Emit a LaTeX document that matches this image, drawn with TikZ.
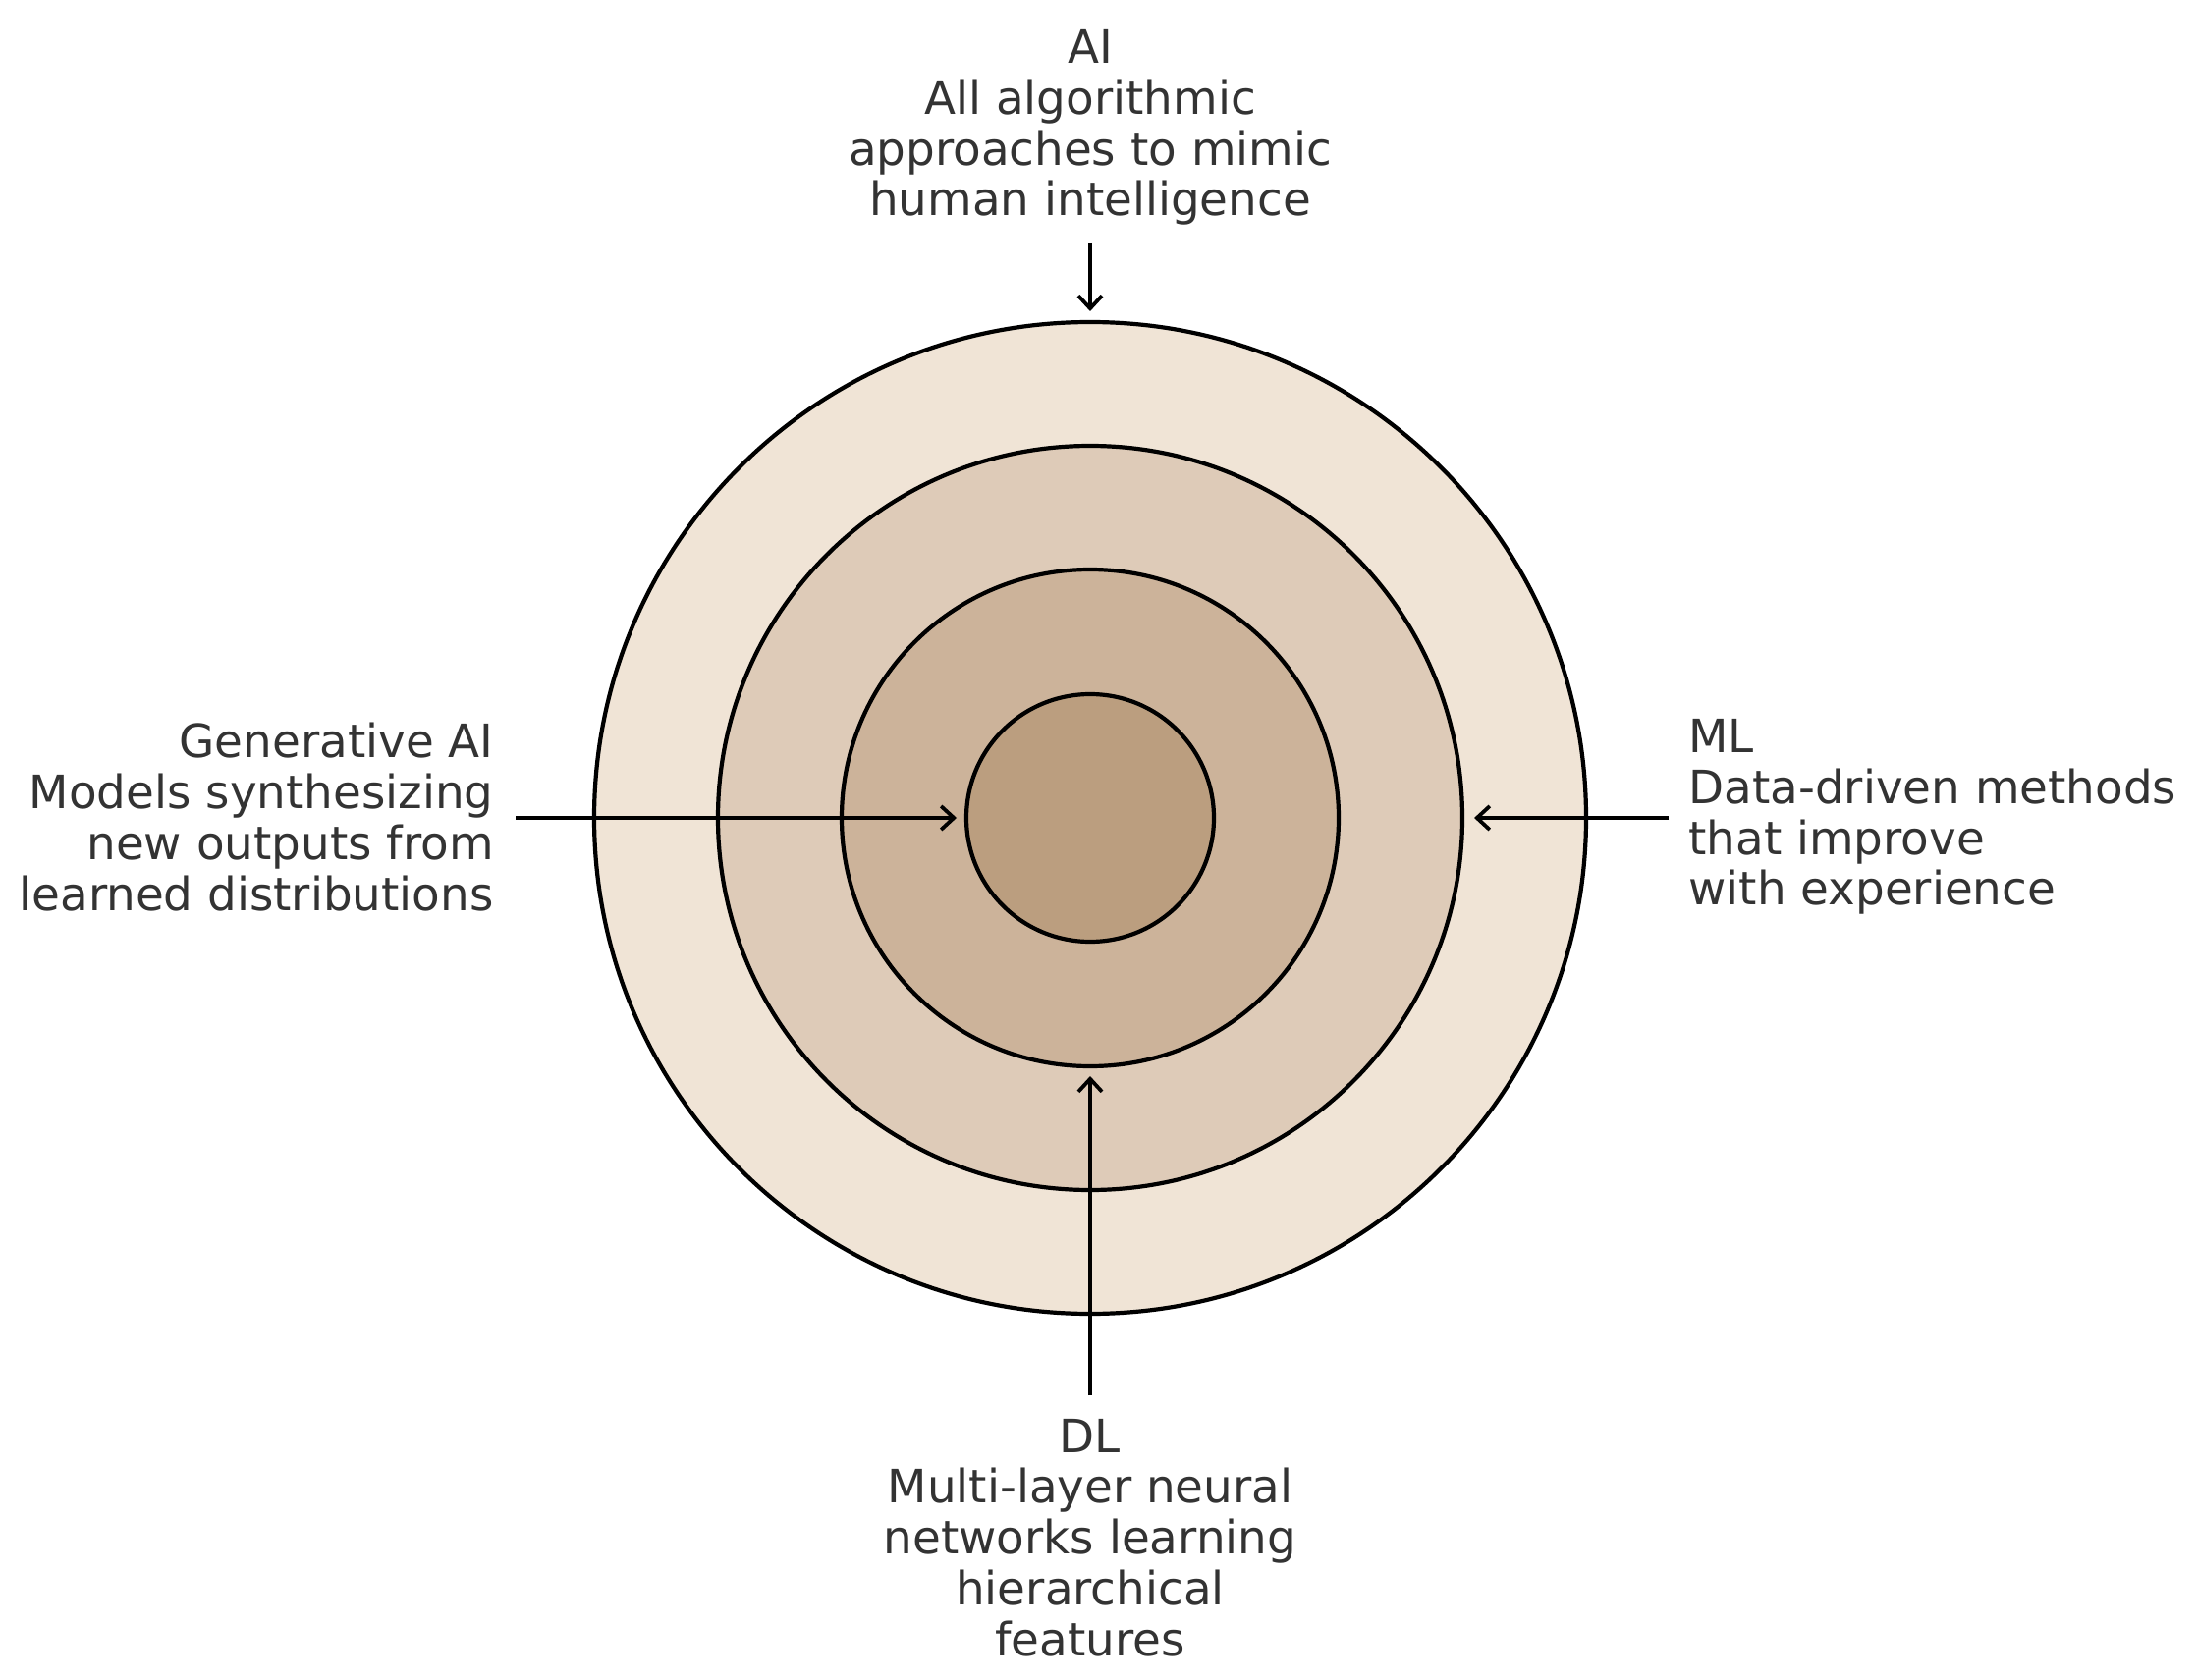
\documentclass[tikz,border=0pt]{standalone}
\usepackage{fontspec}
\setmainfont{DejaVu Sans}
\usetikzlibrary{arrows.meta}
\definecolor{ringA}{HTML}{F0E4D6}
\definecolor{ringB}{HTML}{DECBB8}
\definecolor{ringC}{HTML}{CCB39A}
\definecolor{ringD}{HTML}{BB9E7F}
\definecolor{txt}{HTML}{333333}
\tikzset{
  ring/.style={circle, draw=black, line width=2.1pt, inner sep=0pt, outer sep=0pt},
  lbl/.style={text=txt, font=\fontsize{23.4pt}{25.9pt}\selectfont, inner sep=0pt},
  pointer/.style={draw=black, line width=1.9pt, -{Straight Barb[length=6.5pt, width=12pt, line width=1.9pt]}}
}
\begin{document}
\begin{tikzpicture}[x=0.5pt, y=-0.5pt]
\useasboundingbox (0,0) rectangle (2237,1711);
\fill[white] (0,0) rectangle (2237,1711);
\coordinate (c) at (1110,833);
\node[ring, fill=ringA, minimum size=505pt] (ai) at (c) {};
\node[ring, fill=ringB, minimum size=379pt] (ml) at (c) {};
\node[ring, fill=ringC, minimum size=253pt] (dl) at (c) {};
\node[ring, fill=ringD, minimum size=126pt] (gen) at (c) {};

\node[lbl, align=center] (tAI) at (1110,130) {AI\\All algorithmic\\approaches to mimic\\human intelligence};
\node[lbl, align=right, anchor=east] (tGen) at (503,832) {Generative AI\\Models synthesizing\\new outputs from\\learned distributions};
\node[lbl, align=left, anchor=west] (tML) at (1719,832) {ML\\Data-driven methods\\that improve\\with experience};
\node[lbl, align=center] (tDL) at (1110,1566) {DL\\Multi-layer neural\\networks learning\\hierarchical\\features};

\coordinate (sAI) at (1110,247);
\coordinate (eAI) at (1110,317);
\coordinate (sGen) at (525,833);
\coordinate (eGen) at (974,833);
\coordinate (sML) at (1699,833);
\coordinate (eML) at (1501,833);
\coordinate (sDL) at (1110,1421);
\coordinate (eDL) at (1110,1096);

\draw[pointer] (sAI) -- (eAI);
\draw[pointer] (sGen) -- (eGen);
\draw[pointer] (sML) -- (eML);
\draw[pointer] (sDL) -- (eDL);
\end{tikzpicture}
\end{document}
